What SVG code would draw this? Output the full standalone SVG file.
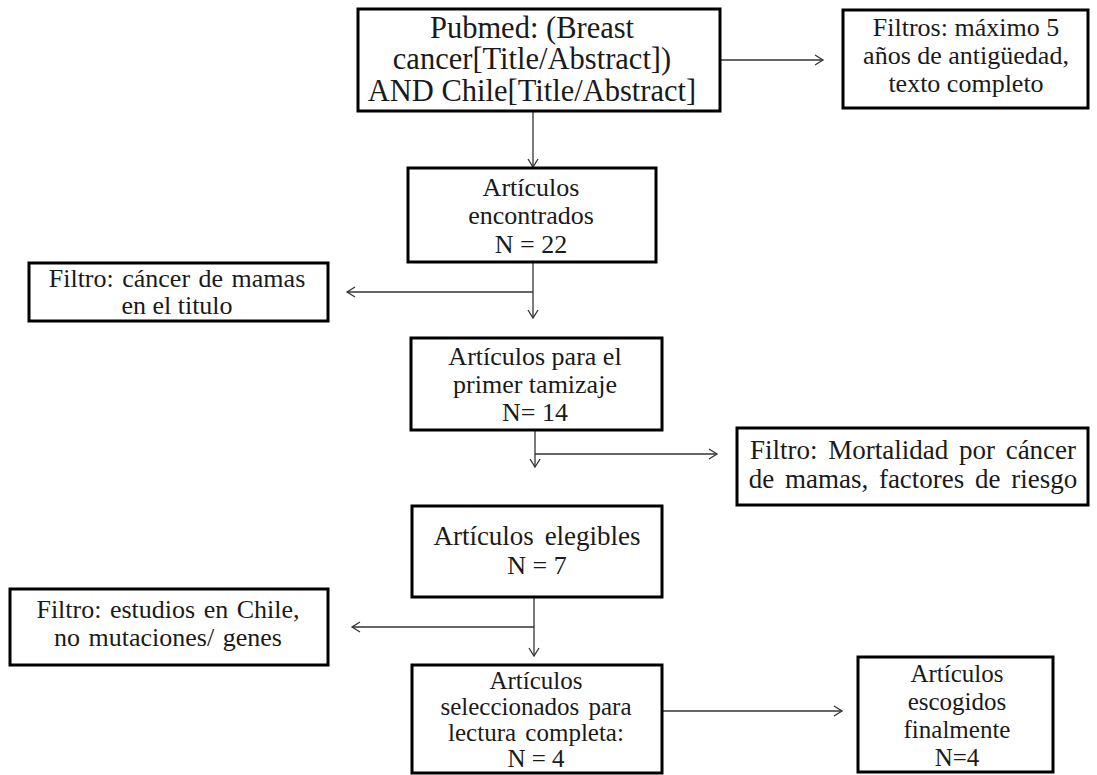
<svg xmlns="http://www.w3.org/2000/svg" width="1097" height="775" viewBox="0 0 1097 775">
<defs>
<style>
.box{fill:#fff;stroke:#000;stroke-width:3}
.t{font-family:"Liberation Serif","Times New Roman",serif;font-size:26px;fill:#1a1a1a;text-anchor:middle}
.big{font-size:30.5px}
.ws{font-size:27px;word-spacing:4px}
.sm{font-size:25px}
.c{fill:none;stroke:#333;stroke-width:1.3}
</style>
<marker id="ah" markerUnits="userSpaceOnUse" markerWidth="14" markerHeight="14" refX="9" refY="6" orient="auto">
<path d="M1,1 L9,6 L1,11" fill="none" stroke="#333" stroke-width="1.3"/>
</marker>
</defs>
<rect width="1097" height="775" fill="#fff"/>
<g id="connectors">
<line class="c" x1="720" y1="60" x2="823" y2="60" marker-end="url(#ah)"/>
<line class="c" x1="533" y1="112" x2="533" y2="167" marker-end="url(#ah)"/>
<line class="c" x1="533" y1="262" x2="533" y2="318" marker-end="url(#ah)"/>
<line class="c" x1="533" y1="292" x2="347" y2="292" marker-end="url(#ah)"/>
<line class="c" x1="535" y1="430" x2="535" y2="467" marker-end="url(#ah)"/>
<line class="c" x1="535" y1="454" x2="717" y2="454" marker-end="url(#ah)"/>
<line class="c" x1="534" y1="597" x2="534" y2="656" marker-end="url(#ah)"/>
<line class="c" x1="534" y1="627" x2="352" y2="627" marker-end="url(#ah)"/>
<line class="c" x1="662" y1="711" x2="842" y2="711" marker-end="url(#ah)"/>
</g>
<g id="pubmed">
<rect class="box" x="358" y="9" width="362" height="102"/>
<text class="t big" x="532" y="38">Pubmed: (Breast</text>
<text class="t big" x="532" y="69">cancer[Title/Abstract])</text>
<text class="t big" x="532" y="101">AND Chile[Title/Abstract]</text>
</g>
<g id="filtros">
<rect class="box" x="843" y="10" width="245" height="98"/>
<text class="t" x="966" y="36" font-size="26.5">Filtros: máximo 5</text>
<text class="t" x="966" y="64" font-size="26.5">años de antigüedad,</text>
<text class="t" x="966" y="92" font-size="26.5">texto completo</text>
</g>
<g id="encontrados">
<rect class="box" x="408" y="168" width="248" height="94"/>
<text class="t" x="531" y="196">Artículos</text>
<text class="t" x="531" y="224">encontrados</text>
<text class="t" x="531" y="253">N = 22</text>
</g>
<g id="filtro-cancer">
<rect class="box" x="29" y="263" width="299" height="58"/>
<text class="t" x="177" y="287" word-spacing="2">Filtro: cáncer de mamas</text>
<text class="t" x="177" y="314">en el titulo</text>
</g>
<g id="tamizaje">
<rect class="box" x="411" y="338" width="251" height="92"/>
<text class="t" x="535" y="365">Artículos para el</text>
<text class="t" x="535" y="393">primer tamizaje</text>
<text class="t" x="535" y="421">N= 14</text>
</g>
<g id="filtro-mortalidad">
<rect class="box" x="737" y="428" width="351" height="77"/>
<text class="t ws" x="913" y="459">Filtro: Mortalidad por cáncer</text>
<text class="t ws" x="913" y="488">de mamas, factores de riesgo</text>
</g>
<g id="elegibles">
<rect class="box" x="412" y="506" width="250" height="91"/>
<text class="t ws" x="537" y="545">Artículos elegibles</text>
<text class="t" x="537" y="574" font-size="27">N = 7</text>
</g>
<g id="filtro-chile">
<rect class="box" x="10" y="589" width="318" height="76"/>
<text class="t" x="168" y="618" word-spacing="2">Filtro: estudios en Chile,</text>
<text class="t" x="168" y="646" word-spacing="2">no mutaciones/ genes</text>
</g>
<g id="seleccionados">
<rect class="box" x="412" y="665" width="250" height="108"/>
<text class="t sm" x="536" y="689">Artículos</text>
<text class="t sm" x="536" y="715" word-spacing="3">seleccionados para</text>
<text class="t sm" x="536" y="741" word-spacing="3">lectura completa:</text>
<text class="t sm" x="536" y="767">N = 4</text>
</g>
<g id="escogidos">
<rect class="box" x="858" y="657" width="195" height="115"/>
<text class="t sm" x="957" y="682">Artículos</text>
<text class="t sm" x="957" y="710">escogidos</text>
<text class="t sm" x="957" y="738">finalmente</text>
<text class="t sm" x="957" y="766">N=4</text>
</g>
</svg>
